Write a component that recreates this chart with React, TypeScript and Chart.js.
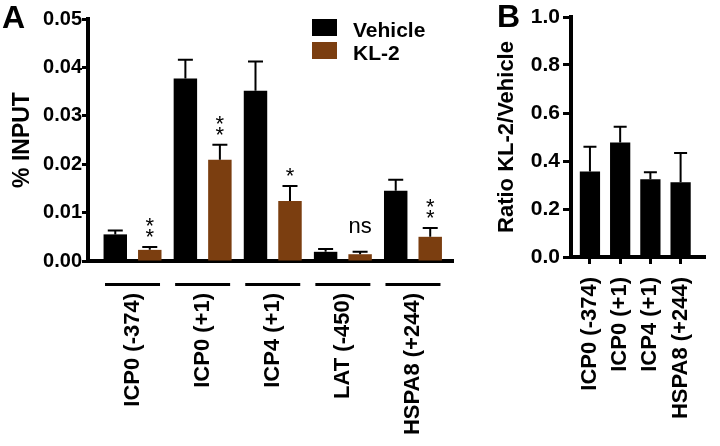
import React, { useEffect, useRef } from "react";
import { Chart, registerables } from "chart.js";

Chart.register(...registerables);

// ---------- Panel A data ----------
const categoriesA = ["ICP0 (-374)", "ICP0 (+1)", "ICP4 (+1)", "LAT (-450)", "HSPA8 (+244)"];
const vehicleMean = [0.0055, 0.0377, 0.0352, 0.0019, 0.0145];
const vehicleSem = [0.0008, 0.0039, 0.006, 0.0006, 0.0023];
const kl2Mean = [0.0023, 0.0209, 0.0124, 0.0014, 0.005];
const kl2Sem = [0.0006, 0.0031, 0.0031, 0.0005, 0.0018];
const kl2Significance = ["**", "**", "*", "ns", "**"];
const yTicksA = [0, 0.01, 0.02, 0.03, 0.04, 0.05];
const seriesNamesA = ["Vehicle", "KL-2"];

// ---------- Panel B data ----------
const categoriesB = ["ICP0 (-374)", "ICP0 (+1)", "ICP4 (+1)", "HSPA8 (+244)"];
const ratioMean = [0.356, 0.477, 0.324, 0.311];
const ratioSem = [0.103, 0.066, 0.029, 0.122];
const yTicksB = [0, 0.2, 0.4, 0.6, 0.8, 1.0];

const FONT = "'Liberation Sans', Arial, Helvetica, sans-serif";
const BLACK = "#000000";
const BROWN = "#7B3E10";

const errorBarPlugin = {
  id: "errorBars",
  afterDatasetsDraw(chart: any, _args: any, opts: any) {
    const ctx = chart.ctx;
    const yScale = chart.scales.y;
    const cap = opts.cap ?? 7;
    chart.data.datasets.forEach((ds: any, di: number) => {
      const meta = chart.getDatasetMeta(di);
      meta.data.forEach((bar: any, i: number) => {
        const top = yScale.getPixelForValue(ds.data[i].y + ds.errors[i]);
        ctx.save();
        ctx.strokeStyle = BLACK;
        ctx.lineWidth = 2;
        ctx.beginPath();
        ctx.moveTo(bar.x, bar.y);
        ctx.lineTo(bar.x, top);
        ctx.moveTo(bar.x - cap, top);
        ctx.lineTo(bar.x + cap, top);
        ctx.stroke();
        if (ds.marks && ds.marks[i]) {
          const m: string = ds.marks[i];
          ctx.fillStyle = BLACK;
          ctx.font = `22px ${FONT}`;
          ctx.textAlign = "center";
          ctx.textBaseline = "alphabetic";
          if (/^\*+$/.test(m)) {
            const n = m.length;
            for (let k = 0; k < n; k++) {
              ctx.fillText("*", bar.x, top - 3 - (n - 1 - k) * 11);
            }
          } else {
            ctx.fillText(m, bar.x, top - 19);
          }
        }
        ctx.restore();
      });
    });
  },
};

const panelLetterPlugin = {
  id: "panelLetter",
  afterDraw(chart: any, _args: any, opts: any) {
    const ctx = chart.ctx;
    ctx.save();
    ctx.fillStyle = BLACK;
    ctx.font = `bold 32px ${FONT}`;
    ctx.textAlign = "left";
    ctx.textBaseline = "alphabetic";
    ctx.fillText(opts.text, opts.x, opts.y);
    ctx.restore();
  },
};

const groupLinePlugin = {
  id: "groupLines",
  afterDraw(chart: any, _args: any, opts: any) {
    if (!opts.enabled) return;
    const ctx = chart.ctx;
    const xs = chart.scales.x;
    const y = chart.chartArea.bottom + 23.5;
    ctx.save();
    ctx.strokeStyle = BLACK;
    ctx.lineWidth = 3;
    categoriesA.forEach((_c, i) => {
      const x = xs.getPixelForValue(i);
      ctx.beginPath();
      ctx.moveTo(x - 27.5, y);
      ctx.lineTo(x + 27.5, y);
      ctx.stroke();
    });
    ctx.restore();
  },
};

const customLegendPlugin = {
  id: "customLegend",
  afterDraw(chart: any, _args: any, opts: any) {
    if (!opts.enabled) return;
    const ctx = chart.ctx;
    ctx.save();
    ctx.font = `bold 21px ${FONT}`;
    ctx.textAlign = "left";
    ctx.textBaseline = "alphabetic";
    chart.data.datasets.forEach((ds: any, i: number) => {
      const top = 19 + i * 23;
      ctx.fillStyle = ds.backgroundColor;
      ctx.fillRect(312, top, 25, 17);
      ctx.fillStyle = BLACK;
      ctx.fillText(ds.label, 353, top + 18);
    });
    ctx.restore();
  },
};

export default function App() {
  const refA = useRef<HTMLCanvasElement>(null);
  const refB = useRef<HTMLCanvasElement>(null);

  useEffect(() => {
    const chartA = new Chart(refA.current as HTMLCanvasElement, {
      type: "bar",
      data: {
        datasets: [
          {
            label: seriesNamesA[0],
            data: vehicleMean.map((y, i) => ({ x: i, y })),
            backgroundColor: BLACK,
            borderWidth: 0,
            errors: vehicleSem,
          } as any,
          {
            label: seriesNamesA[1],
            data: kl2Mean.map((y, i) => ({ x: i, y })),
            backgroundColor: BROWN,
            borderWidth: 0,
            errors: kl2Sem,
            marks: kl2Significance,
          } as any,
        ],
      },
      options: {
        responsive: false,
        animation: false,
        devicePixelRatio: 1,
        layout: { padding: { top: 19, right: 27, bottom: 0, left: 0 } },
        datasets: { bar: { categoryPercentage: 0.984, barPercentage: 0.68 } },
        plugins: {
          legend: { display: false },
          tooltip: { enabled: false },
          errorBars: { cap: 7.5 },
          panelLetter: { text: "A", x: 2, y: 28 },
          groupLines: { enabled: true },
          customLegend: { enabled: true },
        } as any,
        scales: {
          x: {
            type: "linear",
            min: -0.635,
            max: 4.571,
            offset: false,
            grid: { display: false, drawTicks: false, offset: false },
            border: { display: true, color: BLACK, width: 4 },
            afterBuildTicks: (s: any) => {
              s.ticks = categoriesA.map((_c, i) => ({ value: i }));
            },
            afterFit: (s: any) => {
              s.height = 185;
            },
            ticks: {
              autoSkip: false,
              minRotation: 90,
              maxRotation: 90,
              padding: 32,
              color: BLACK,
              font: { family: FONT, size: 22, weight: "bold" },
              callback: (v: any) => categoriesA[v] ?? "",
            },
          } as any,
          y: {
            min: 0,
            max: 0.05,
            afterBuildTicks: (s: any) => {
              s.ticks = yTicksA.map((v) => ({ value: v }));
            },
            afterFit: (s: any) => {
              s.width = 88;
            },
            grid: {
              drawOnChartArea: false,
              drawTicks: true,
              tickLength: 6,
              tickWidth: 3,
              tickColor: BLACK,
              color: BLACK,
            },
            border: { display: true, color: BLACK, width: 4 },
            ticks: {
              padding: 0,
              color: BLACK,
              font: { family: FONT, size: 20, weight: "bold" },
              callback: (v: any) => Number(v).toFixed(2),
            },
            title: {
              display: true,
              text: "% INPUT",
              color: BLACK,
              font: { family: FONT, size: 23, weight: "bold" },
              padding: { top: 9, bottom: 0 },
            },
          } as any,
        },
      },
      plugins: [errorBarPlugin, panelLetterPlugin, groupLinePlugin, customLegendPlugin],
    });

    const chartB = new Chart(refB.current as HTMLCanvasElement, {
      type: "bar",
      data: {
        datasets: [
          {
            label: "Ratio",
            data: ratioMean.map((y, i) => ({ x: i, y })),
            backgroundColor: BLACK,
            borderWidth: 0,
            errors: ratioSem,
          } as any,
        ],
      },
      options: {
        responsive: false,
        animation: false,
        devicePixelRatio: 1,
        layout: { padding: { top: 17, right: 0, bottom: 0, left: 0 } },
        datasets: { bar: { categoryPercentage: 1, barPercentage: 0.67 } },
        plugins: {
          legend: { display: false },
          tooltip: { enabled: false },
          errorBars: { cap: 6.5 },
          panelLetter: { text: "B", x: 17, y: 27 },
          groupLines: { enabled: false },
          customLegend: { enabled: false },
        } as any,
        scales: {
          x: {
            type: "linear",
            min: -0.627,
            max: 3.82,
            offset: false,
            grid: {
              display: true,
              drawOnChartArea: false,
              drawTicks: true,
              tickLength: 7,
              tickWidth: 3,
              tickColor: BLACK,
              color: BLACK,
              offset: false,
            },
            border: { display: true, color: BLACK, width: 4 },
            afterBuildTicks: (s: any) => {
              s.ticks = categoriesB.map((_c, i) => ({ value: i }));
            },
            afterFit: (s: any) => {
              s.height = 189;
            },
            ticks: {
              autoSkip: false,
              minRotation: 90,
              maxRotation: 90,
              padding: 13,
              color: BLACK,
              font: { family: FONT, size: 22, weight: "bold" },
              callback: (v: any) => categoriesB[v] ?? "",
            },
          } as any,
          y: {
            min: 0,
            max: 1,
            afterBuildTicks: (s: any) => {
              s.ticks = yTicksB.map((v) => ({ value: v }));
            },
            afterFit: (s: any) => {
              s.width = 91;
            },
            grid: {
              drawOnChartArea: false,
              drawTicks: true,
              tickLength: 8,
              tickWidth: 3,
              tickColor: BLACK,
              color: BLACK,
            },
            border: { display: true, color: BLACK, width: 4 },
            ticks: {
              padding: 3,
              color: BLACK,
              font: { family: FONT, size: 21, weight: "bold" },
              callback: (v: any) => Number(v).toFixed(1),
            },
            title: {
              display: true,
              text: "Ratio KL-2/Vehicle",
              color: BLACK,
              font: { family: FONT, size: 22, weight: "bold" },
              padding: { top: 14, bottom: 0 },
            },
          } as any,
        },
      },
      plugins: [errorBarPlugin, panelLetterPlugin, groupLinePlugin, customLegendPlugin],
    });

    return () => {
      chartA.destroy();
      chartB.destroy();
    };
  }, []);

  return (
    <div style={{ position: "absolute", left: 0, top: 0, width: 720, height: 446, background: "#ffffff" }}>
      <canvas ref={refA} width={480} height={446} style={{ position: "absolute", left: 0, top: 0, display: "block" }} />
      <canvas ref={refB} width={240} height={446} style={{ position: "absolute", left: 480, top: 0, display: "block" }} />
    </div>
  );
}
